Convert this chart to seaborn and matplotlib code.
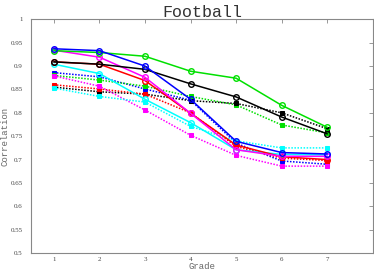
import matplotlib
matplotlib.use("Agg")
import matplotlib.pyplot as plt
import seaborn as sns
import pandas as pd
import numpy as np

grades = [1, 2, 3, 4, 5, 6, 7]

# solid lines, open circles
solid_blue = [0.937, 0.933, 0.900, 0.829, 0.739, 0.715, 0.712]
solid_green = [0.933, 0.929, 0.921, 0.889, 0.874, 0.816, 0.769]
solid_black = [0.909, 0.904, 0.893, 0.862, 0.834, 0.791, 0.755]
solid_red = [0.909, 0.904, 0.869, 0.799, 0.731, 0.706, 0.700]
solid_magenta = [0.934, 0.919, 0.876, 0.799, 0.721, 0.707, 0.707]
solid_cyan = [0.904, 0.884, 0.829, 0.779, 0.721, 0.711, 0.710]

# dotted lines, small squares
dot_blue = [0.886, 0.877, 0.851, 0.827, 0.735, 0.697, 0.690]
dot_green = [0.880, 0.870, 0.857, 0.835, 0.817, 0.774, 0.757]
dot_black = [0.855, 0.845, 0.840, 0.826, 0.820, 0.800, 0.766]
dot_red = [0.860, 0.851, 0.840, 0.800, 0.728, 0.703, 0.698]
dot_magenta = [0.879, 0.857, 0.806, 0.752, 0.709, 0.686, 0.686]
dot_cyan = [0.853, 0.835, 0.823, 0.771, 0.740, 0.725, 0.725]

yticks = [0.5, 0.55, 0.6, 0.65, 0.7, 0.75, 0.8, 0.85, 0.9, 0.95, 1]

sns.set_style("white")

fig = plt.figure(figsize=(3.74, 2.76), dpi=100)
ax = fig.add_axes([0.083, 0.083, 0.914, 0.847])

dotted = [
    (dot_blue, "#0000ff"),
    (dot_green, "#00e000"),
    (dot_black, "#000000"),
    (dot_red, "#ff0000"),
    (dot_magenta, "#ff00ff"),
    (dot_cyan, "#00ffff"),
]
for vals, col in dotted:
    sns.lineplot(x=grades, y=vals, ax=ax, color=col, linestyle=(0, (1, 1)),
                 linewidth=1.1, marker="s", markersize=2.6, markeredgecolor=col,
                 markerfacecolor=col)

solid = [
    (solid_cyan, "#00ffff"),
    (solid_red, "#ff0000"),
    (solid_magenta, "#ff00ff"),
    (solid_black, "#000000"),
    (solid_green, "#00e000"),
    (solid_blue, "#0000ff"),
]
for vals, col in solid:
    sns.lineplot(x=grades, y=vals, ax=ax, color=col, linewidth=1.1,
                 marker="o", markersize=4, markeredgecolor=col,
                 markerfacecolor="none", markeredgewidth=1.0)

ax.set_xlim(0.5, 8)
ax.set_ylim(0.5, 1)
ax.set_xticks(grades)
ax.set_yticks(yticks)
ax.set_yticklabels([("%g" % t) for t in yticks])
ax.tick_params(direction="in", length=3, width=0.6, color="#888888",
               top=True, right=True, labelsize=5, labelcolor="#444444")
ax.tick_params(axis="x", pad=3)
ax.tick_params(axis="y", pad=6)
for lab in ax.get_xticklabels() + ax.get_yticklabels():
    lab.set_family("Liberation Serif")
for sp in ax.spines.values():
    sp.set_color("#888888")
    sp.set_linewidth(0.8)

ax.set_xlabel("Grade", family="Liberation Mono", fontsize=6.5, color="#666666", labelpad=0)
ax.set_ylabel("Correlation", family="Liberation Mono", fontsize=6.5, color="#666666", labelpad=1)
ax.set_title("Football", family="Liberation Mono", fontsize=12, color="#333333", pad=2)

fig.savefig("out.png", dpi=100)
